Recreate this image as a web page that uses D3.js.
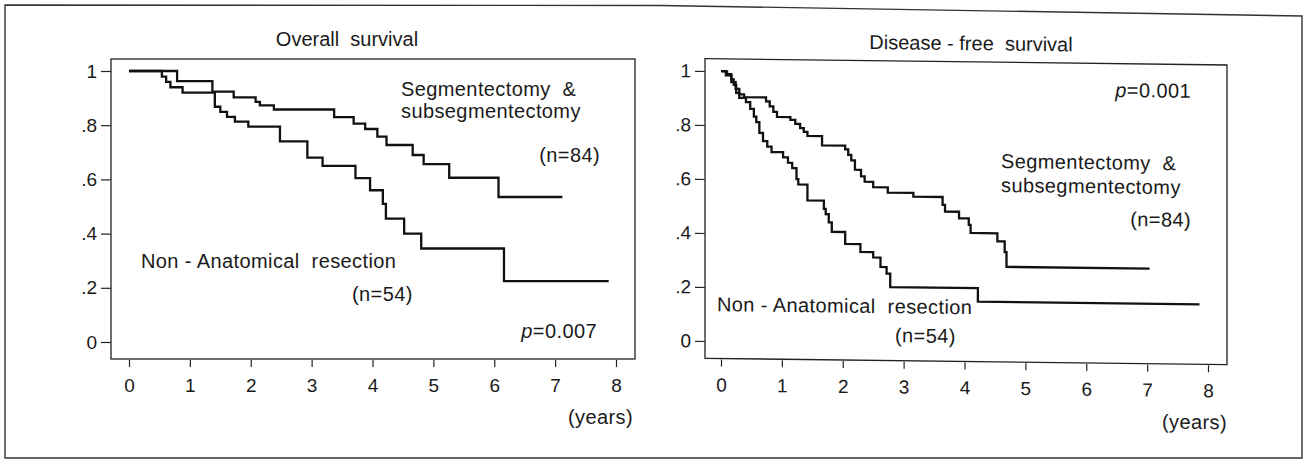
<!DOCTYPE html>
<html>
<head>
<meta charset="utf-8">
<script src="https://cdnjs.cloudflare.com/ajax/libs/d3/7.8.5/d3.min.js"></script>
<style>
body { margin: 0; background: #fff; }
svg text { font-family: "Liberation Sans", Arial, sans-serif; fill: #1a1a1a; white-space: pre; }
</style>
</head>
<body>
<div id="chart"></div>
<script>
// Kaplan-Meier steps: [years, survival]
var osSegment = [[0,1],[0.79,0.963],[1.37,0.924],[1.72,0.903],[2.08,0.886],[2.15,0.873],
	[2.38,0.858],[3.37,0.83],[3.69,0.806],[3.88,0.786],[4.08,0.758],[4.23,0.727],
	[4.66,0.69],[4.84,0.656],[5.26,0.606],[6.07,0.535],[7.12,0.535]];

var osNonAnat = [[0,1],[0.54,0.979],[0.61,0.96],[0.68,0.94],[0.88,0.92],[1.41,0.868],
	[1.5,0.849],[1.61,0.831],[1.74,0.813],[1.96,0.795],[2.48,0.74],[2.93,0.68],
	[3.18,0.65],[3.72,0.605],[3.96,0.56],[4.17,0.51],[4.22,0.455],[4.52,0.4],
	[4.8,0.345],[6.16,0.225],[7.88,0.225]];

var dfsSegment = [[0,1],[0.08,0.985],[0.17,0.96],[0.24,0.935],[0.3,0.915],[0.38,0.905],
	[0.74,0.89],[0.8,0.872],[0.86,0.852],[0.92,0.833],[1.14,0.823],[1.22,0.808],
	[1.3,0.793],[1.36,0.779],[1.42,0.764],[1.66,0.73],[2.04,0.716],[2.09,0.696],
	[2.14,0.676],[2.2,0.641],[2.3,0.617],[2.36,0.597],[2.5,0.577],[2.74,0.558],
	[3.16,0.544],[3.64,0.515],[3.68,0.49],[3.91,0.466],[4.07,0.442],[4.1,0.412],
	[4.54,0.382],[4.66,0.343],[4.69,0.288],[7.04,0.288]];

var dfsNonAnat = [[0,1],[0.1,0.99],[0.17,0.97],[0.21,0.95],[0.25,0.92],[0.3,0.902],
	[0.41,0.887],[0.48,0.862],[0.54,0.833],[0.58,0.813],[0.63,0.773],[0.69,0.743],
	[0.76,0.723],[0.83,0.703],[1.02,0.684],[1.1,0.664],[1.17,0.644],[1.24,0.604],
	[1.27,0.584],[1.42,0.525],[1.69,0.495],[1.72,0.475],[1.77,0.445],[1.82,0.41],
	[2.04,0.366],[2.29,0.337],[2.5,0.317],[2.62,0.282],[2.72,0.258],[2.78,0.208],
	[4.22,0.158],[7.86,0.158]];

var yearTicks = [0, 1, 2, 3, 4, 5, 6, 7, 8];
var survTicks = [0, 0.2, 0.4, 0.6, 0.8, 1];
var survTickLabels = ['0', '.2', '.4', '.6', '.8', '1'];

var w = 1307;
var h = 462;

var svg = d3.select('#chart').append('svg')
			.attr('width', w)
			.attr('height', h);

svg.append('rect')
	.attr('width', w)
	.attr('height', h)
	.attr('fill', '#fff');

// outer frame of the figure (the scan is a little crooked on the right)
svg.append('path')
	.attr('d', 'M5,5 L660,5.5 L1302,16 L1302,458 L5,458 Z')
	.attr('fill', 'none')
	.attr('stroke', '#333')
	.attr('stroke-width', 1.4);

var panels = [
	{
		transform: 'translate(111,0)',
		boxW: 524, boxTop: 59, boxBottom: 359,
		xRange: [18, 505], yRange: [342, 71],
		title: 'Overall  survival', titleX: 236, titleY: 46,
		series: [osSegment, osNonAnat],
		notes: [
			{ t: 'Segmentectomy  &', x: 290, y: 96, a: 'start' },
			{ t: 'subsegmentectomy', x: 290, y: 118, a: 'start' },
			{ t: '(n=84)', x: 489, y: 162, a: 'end' },
			{ t: 'Non - Anatomical  resection', x: 30, y: 268, a: 'start' },
			{ t: '(n=54)', x: 241, y: 301, a: 'start' },
			{ p: '=0.007', x: 486, y: 338, a: 'end' },
			{ t: '(years)', x: 522, y: 424, a: 'end' }
		]
	},
	{
		// right panel is sheared slightly downwards in the scan
		transform: 'translate(705,0) skewY(0.69)',
		boxW: 522, boxTop: 58.7, boxBottom: 358.3,
		xRange: [16, 503], yRange: [341, 71],
		title: 'Disease - free  survival', titleX: 266, titleY: 47,
		series: [dfsSegment, dfsNonAnat],
		notes: [
			{ p: '=0.001', x: 486, y: 92, a: 'end' },
			{ t: 'Segmentectomy  &', x: 296, y: 164.5, a: 'start' },
			{ t: 'subsegmentectomy', x: 296, y: 188.5, a: 'start' },
			{ t: '(n=84)', x: 486, y: 221, a: 'end' },
			{ t: 'Non - Anatomical  resection', x: 12, y: 311, a: 'start' },
			{ t: '(n=54)', x: 190, y: 340, a: 'start' },
			{ t: '(years)', x: 522, y: 423, a: 'end' }
		]
	}
];

panels.forEach(function(p) {
	draw_panel(p);
});

function draw_panel(p) {
	var g = svg.append('g')
				.attr('transform', p.transform);

	var x = d3.scaleLinear()
				.domain([0, 8])
				.range(p.xRange);

	var y = d3.scaleLinear()
				.domain([0, 1])
				.range(p.yRange);

	g.append('rect')
		.attr('x', 0)
		.attr('y', p.boxTop)
		.attr('width', p.boxW)
		.attr('height', p.boxBottom - p.boxTop)
		.attr('fill', 'none')
		.attr('stroke', '#222')
		.attr('stroke-width', 1.3);

	var xAxis = g.append('g')
		.attr('transform', 'translate(0,' + (p.boxBottom + 1) + ')')
		.call(d3.axisBottom(x)
				.tickValues(yearTicks)
				.tickSize(7)
				.tickPadding(11.5));

	var yAxis = g.append('g')
		.call(d3.axisLeft(y)
				.tickValues(survTicks)
				.tickFormat(function(d, i) { return survTickLabels[i]; })
				.tickSize(10)
				.tickPadding(4));

	[xAxis, yAxis].forEach(function(a) {
		a.select('.domain').remove();
		a.selectAll('line').attr('stroke', '#222').attr('stroke-width', 1.2);
		a.selectAll('text')
			.attr('fill', '#1a1a1a')
			.style('font-size', '19px')
			.style('font-family', '"Liberation Sans", Arial, sans-serif');
	});

	var line = d3.line()
				.x(function(d) { return x(d[0]); })
				.y(function(d) { return y(d[1]); })
				.curve(d3.curveStepAfter);

	g.selectAll('path.km')
		.data(p.series)
	  .enter().append('path')
		.attr('class', 'km')
		.attr('d', line)
		.attr('fill', 'none')
		.attr('stroke', '#111')
		.attr('stroke-width', 2.3);

	g.append('text')
		.attr('x', p.titleX)
		.attr('y', p.titleY)
		.attr('text-anchor', 'middle')
		.style('font-size', '20px')
		.text(p.title);

	// annotations are a touch wider than Arial in the scan
	p.notes.forEach(function(n) {
		var t = g.append('text')
					.attr('x', n.x)
					.attr('y', n.y)
					.attr('text-anchor', n.a)
					.style('font-size', '20px')
					.style('letter-spacing', '0.4px');
		if (n.p) {
			t.append('tspan').style('font-style', 'italic').text('p');
			t.append('tspan').text(n.p);
		} else {
			t.text(n.t);
		}
	});
}
</script>
</body>
</html>
